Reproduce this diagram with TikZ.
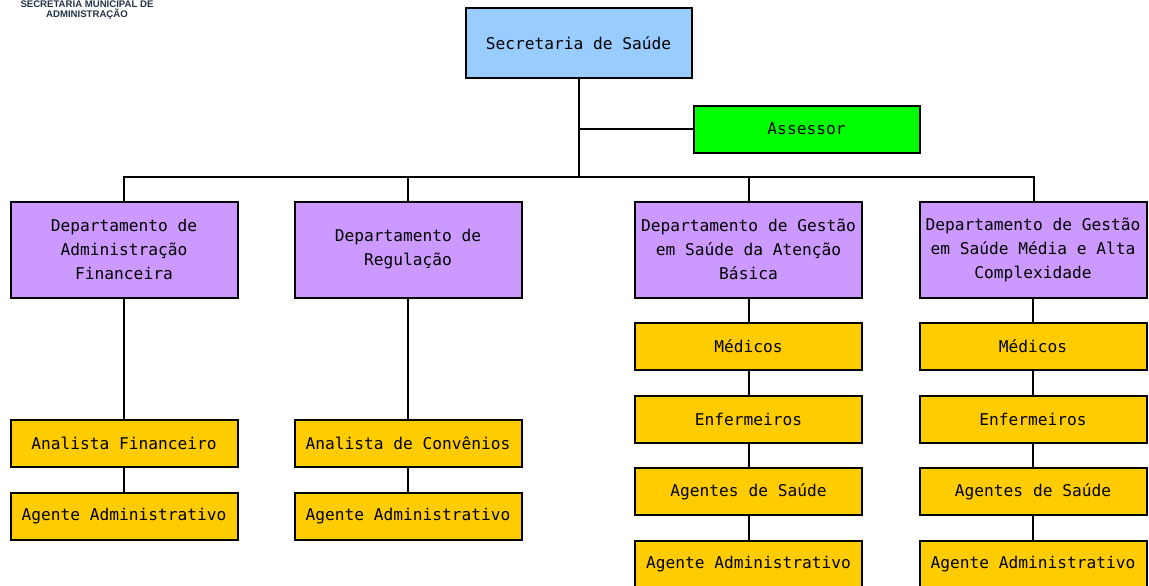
\documentclass[tikz,border=0pt]{standalone}
\usepackage{fontspec}
\setmonofont{DejaVu Sans Mono}
\newfontfamily\hdrfont{Liberation Sans}
\definecolor{cSec}{HTML}{99CCFF}
\definecolor{cAss}{HTML}{00FF00}
\definecolor{cDep}{HTML}{CC99FF}
\definecolor{cPos}{HTML}{FFCC00}
\definecolor{cHdr}{HTML}{243447}
\tikzset{
  box/.style={draw=black, line width=2pt, inner sep=2pt, align=center,
    font=\ttfamily\fontsize{16.2}{24}\selectfont, text=black},
  secbox/.style={box, fill=cSec, minimum width=226pt, minimum height=70pt},
  assbox/.style={box, fill=cAss, minimum width=226pt, minimum height=47pt},
  depbox/.style={box, fill=cDep, minimum width=227pt, minimum height=96pt},
  posbox/.style={box, fill=cPos, minimum width=227pt, minimum height=47pt},
  conn/.style={draw=black, line width=2pt},
  hdr/.style={font=\hdrfont\bfseries\fontsize{9.6}{10.5}\selectfont, text=cHdr, anchor=base, inner sep=0pt},
}
\begin{document}
\begin{tikzpicture}[x=1pt, y=-1pt]
\useasboundingbox (0,0) rectangle (1149,586);
\clip (0,0) rectangle (1149,586);
\fill[white] (0,0) rectangle (1149,586);

% header
\node[hdr] (h1) at (87,7.6) {SECRETARIA MUNICIPAL DE};
\node[hdr] (h2) at (87,17.8) {ADMINISTRAÇÃO};

% nodes
\node[secbox] (sec) at (578.5,43.5) {Secretaria de Saúde};
\node[assbox] (ass) at (806.5,129) {Assessor};

\node[depbox] (d1) at (124,249.5) {Departamento de\\Administração\\Financeira};
\node[depbox] (d2) at (408,249.5) {Departamento de\\Regulação};
\node[depbox] (d3) at (748.5,249.5) {Departamento de Gestão\\em Saúde da Atenção\\Básica};
\node[depbox] (d4) at (1033,249.5) {Departamento de Gestão\\em Saúde Média e Alta\\Complexidade};

\node[posbox] (a1) at (124,443) {Analista Financeiro};
\node[posbox] (a2) at (124,516) {Agente Administrativo};
\node[posbox] (b1) at (408,443) {Analista de Convênios};
\node[posbox] (b2) at (408,516) {Agente Administrativo};

\node[posbox] (c1) at (748.5,346.5) {Médicos};
\node[posbox] (c2) at (748.5,419) {Enfermeiros};
\node[posbox] (c3) at (748.5,491.5) {Agentes de Saúde};
\node[posbox] (c4) at (748.5,564) {Agente Administrativo};

\node[posbox] (e1) at (1033,346.5) {Médicos};
\node[posbox] (e2) at (1033,419) {Enfermeiros};
\node[posbox] (e3) at (1033,491.5) {Agentes de Saúde};
\node[posbox] (e4) at (1033,564) {Agente Administrativo};

% connectors
\coordinate (busL) at (124,177);
\coordinate (busR) at (1034,177);
\draw[conn] (sec.south) -- (sec.south |- busL);
\draw[conn] (sec.south |- ass.west) -- (ass.west);
\draw[conn] (d1.north) -- (busL) -- (busR) -- (busR |- d4.north);
\draw[conn] (d2.north) -- (d2.north |- busL);
\draw[conn] (d3.north) -- (d3.north |- busL);

\draw[conn] (d1) -- (a1);
\draw[conn] (a1) -- (a2);
\draw[conn] (d2) -- (b1);
\draw[conn] (b1) -- (b2);
\draw[conn] (d3) -- (c1);
\draw[conn] (c1) -- (c2);
\draw[conn] (c2) -- (c3);
\draw[conn] (c3) -- (c4);
\draw[conn] (d4) -- (e1);
\draw[conn] (e1) -- (e2);
\draw[conn] (e2) -- (e3);
\draw[conn] (e3) -- (e4);
\end{tikzpicture}
\end{document}
